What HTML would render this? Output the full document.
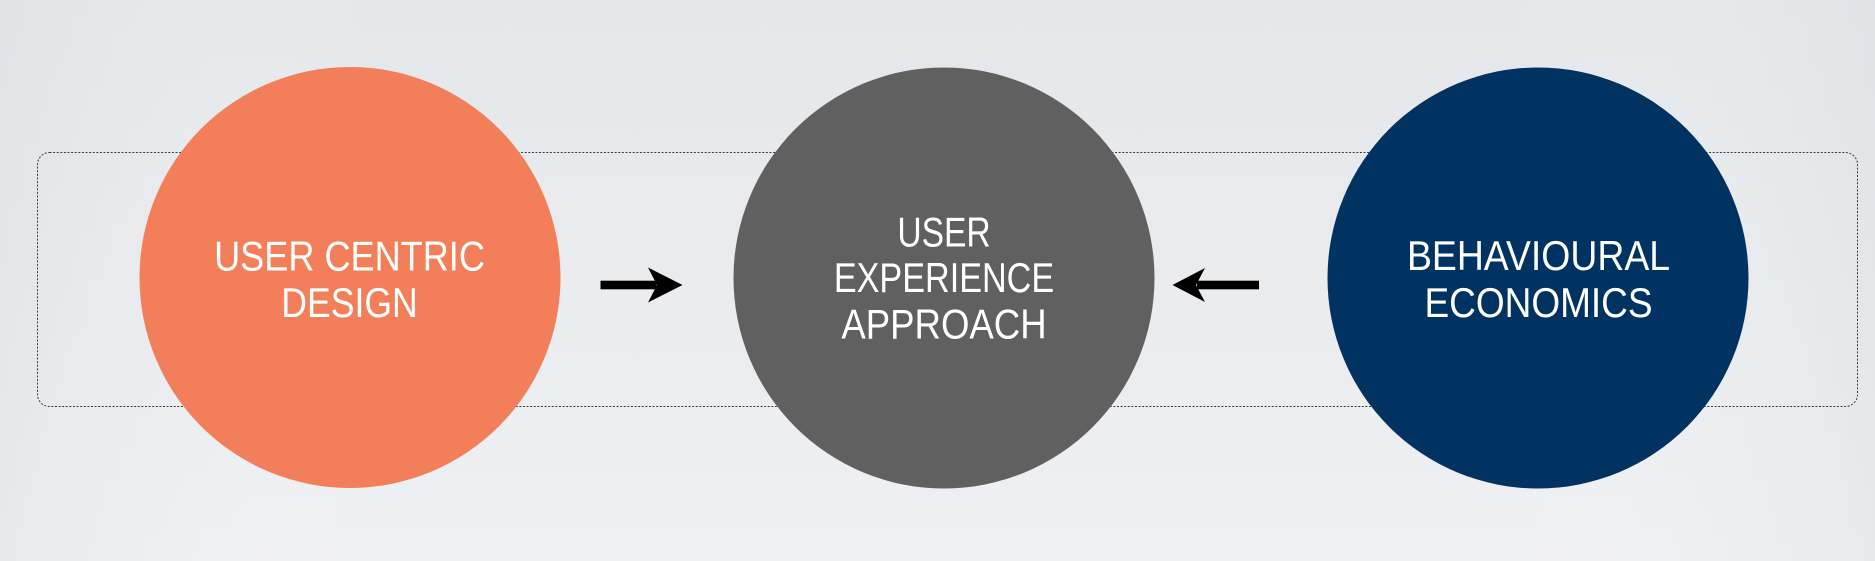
<!DOCTYPE html>
<html>
<head>
<meta charset="utf-8">
<style>
  html, body { margin:0; padding:0; }
  body { width:1875px; height:561px; overflow:hidden; }
  svg { display:block; }
</style>
</head>
<body>
<svg width="1875" height="561" viewBox="0 0 1875 561" xmlns="http://www.w3.org/2000/svg">
  <defs>
    <linearGradient id="bgv" x1="0" y1="0" x2="0" y2="1">
      <stop offset="0" stop-color="#e4e7ea"/>
      <stop offset="1" stop-color="#eff0f3"/>
    </linearGradient>
    <linearGradient id="bgh" x1="0" y1="0" x2="1" y2="0">
      <stop offset="0" stop-color="#d8dce0" stop-opacity="0.35"/>
      <stop offset="0.2" stop-color="#ffffff" stop-opacity="0"/>
      <stop offset="0.8" stop-color="#ffffff" stop-opacity="0"/>
      <stop offset="1" stop-color="#d8dce0" stop-opacity="0.35"/>
    </linearGradient>
  </defs>
  <rect x="0" y="0" width="1875" height="561" fill="url(#bgv)"/>
  <rect x="0" y="0" width="1875" height="561" fill="url(#bgh)"/>

  <!-- dashed rounded rectangle -->
  <rect x="37.5" y="152.5" width="1820" height="254" rx="12" ry="12" fill="none" stroke="#3a3a3a" stroke-width="1" stroke-dasharray="2 1.6"/>

  <!-- circles -->
  <circle cx="350" cy="277.5" r="210.5" fill="#f27e5a"/>
  <circle cx="944" cy="278" r="210.5" fill="#606060"/>
  <circle cx="1538" cy="278" r="210.5" fill="#003361"/>

  <!-- arrows -->
  <rect x="600.5" y="280.7" width="56" height="8.6" fill="#000"/>
  <polygon points="648,267.5 682.5,285 648,302.5 657,285" fill="#000"/>

  <rect x="1197" y="280.7" width="62" height="8.6" fill="#000"/>
  <polygon points="1205,268 1172.5,285 1205,302 1196,285" fill="#000"/>

  <g font-family="Liberation Sans, DejaVu Sans, sans-serif" font-size="42" fill="#ffffff" text-anchor="middle">
    <!-- orange text -->
    <text transform="translate(349.5,270.5) scale(0.860,1)">USER CENTRIC</text>
    <text transform="translate(349.5,317) scale(0.848,1)">DESIGN</text>

    <!-- gray text -->
    <text transform="translate(944,246.5) scale(0.800,1)">USER</text>
    <text transform="translate(944,292) scale(0.814,1)">EXPERIENCE</text>
    <text transform="translate(944,338.5) scale(0.871,1)">APPROACH</text>

    <!-- blue text -->
    <text transform="translate(1538.5,270) scale(0.890,1)">BEHAVIOURAL</text>
    <text transform="translate(1538.5,317) scale(0.881,1)">ECONOMICS</text>
  </g>
</svg>
</body>
</html>
